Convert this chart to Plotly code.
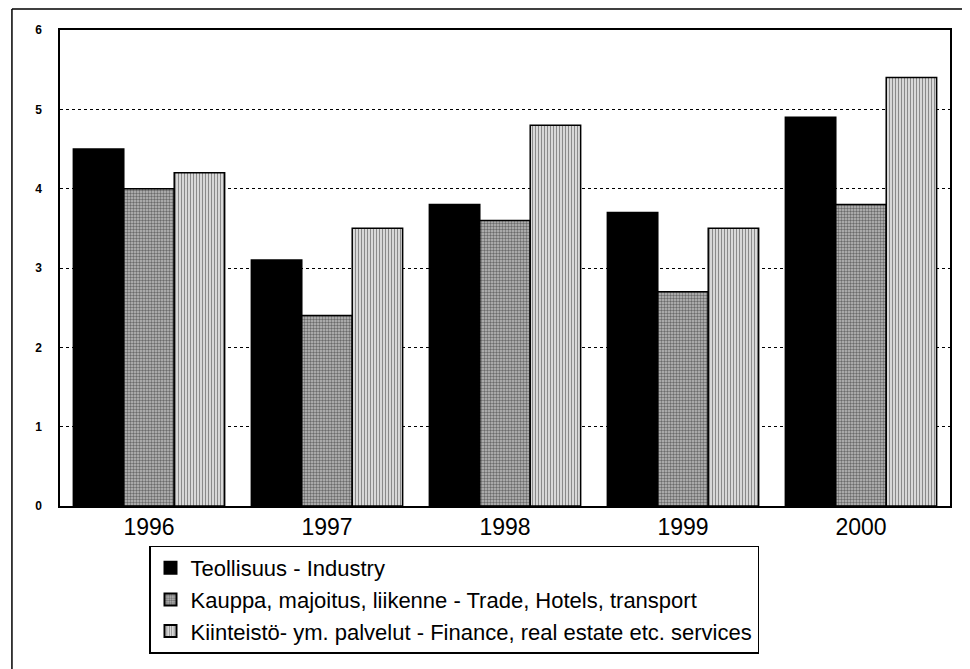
import plotly.graph_objects as go

years = ["1996", "1997", "1998", "1999", "2000"]
industry = [4.5, 3.1, 3.8, 3.7, 4.9]
trade = [4.0, 2.4, 3.6, 2.7, 3.8]
finance = [4.2, 3.5, 4.8, 3.5, 5.4]
names = ["Teollisuus - Industry",
         "Kauppa, majoitus, liikenne - Trade, Hotels, transport",
         "Kiinteistö- ym. palvelut - Finance, real estate etc. services"]
yticks = [0, 1, 2, 3, 4, 5, 6]

fig = go.Figure()
fig.add_trace(go.Bar(x=years, y=industry, name=names[0], legendgroup="a",
                     marker=dict(color="black", line=dict(color="black", width=1.5))))
fig.add_trace(go.Bar(x=years, y=trade, name=names[1], legendgroup="b",
                     marker=dict(color="#8f8f8f", line=dict(color="black", width=1.5),
                                 pattern=dict(shape=".", fgcolor="#1a1a1a", bgcolor="#bdbdbd",
                                              size=3, solidity=0.5))))
fig.add_trace(go.Bar(x=years, y=finance, name=names[2], legendgroup="c",
                     marker=dict(color="#bdbdbd", line=dict(color="black", width=1.5),
                                 pattern=dict(shape="|", fgcolor="#333333", bgcolor="#e0e0e0",
                                              size=3, solidity=0.4))))

fig.update_layout(
    width=962, height=661,
    margin=dict(l=52, r=20, t=22, b=163),
    paper_bgcolor="white", plot_bgcolor="white",
    barmode="group", bargap=0.15, bargroupgap=0,
    font=dict(family="Liberation Sans, Arial", color="black"),
    showlegend=True,
    legend=dict(x=0.1, y=-0.083, xanchor="left", yanchor="top",
                bgcolor="white", bordercolor="black", borderwidth=1.5,
                font=dict(size=22), traceorder="grouped", tracegroupgap=0,
                itemsizing="constant"),
    xaxis=dict(showline=True, linecolor="black", linewidth=1.5, mirror=True,
               ticks="", tickfont=dict(size=23), showgrid=False),
    yaxis=dict(range=[0, 6], tickvals=yticks, ticktext=[f"<b>{v}</b>" for v in yticks],
               showline=True, linecolor="black", linewidth=1.5, mirror=True,
               ticks="", tickfont=dict(size=12), ticklabelstandoff=14,
               showgrid=True, gridcolor="black", griddash="dot", gridwidth=1,
               zeroline=False),
    shapes=[
        dict(type="line", xref="paper", yref="paper", x0=-0.054, x1=1.03, y0=1.044, y1=1.044,
             line=dict(color="black", width=1.5)),
        dict(type="line", xref="paper", yref="paper", x0=-0.054, x1=-0.054, y0=1.044, y1=-0.35,
             line=dict(color="black", width=1.5)),
    ],
)

fig.write_html("out.html")
